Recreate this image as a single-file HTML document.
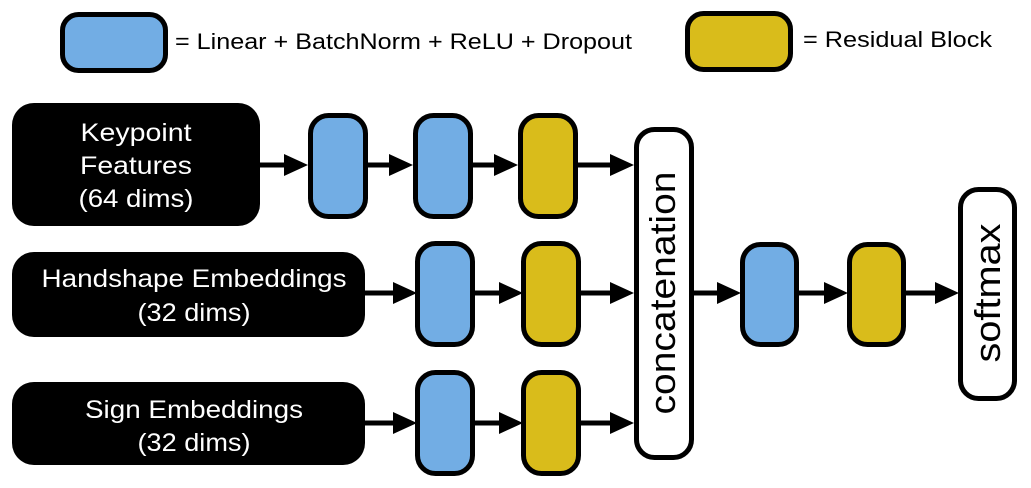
<!DOCTYPE html>
<html><head><meta charset="utf-8"><style>
html,body{margin:0;padding:0;background:#fff;}
svg{display:block;font-family:"Liberation Sans",Arial,sans-serif;}
</style></head><body>
<svg width="1031" height="488" viewBox="0 0 1031 488" xmlns="http://www.w3.org/2000/svg">
<g stroke="#000" stroke-width="5">
<rect x="62.5" y="14.5" width="103" height="56" rx="16" fill="#72ade4"/>
<rect x="687.5" y="13.5" width="103" height="56" rx="16" fill="#d9bc1b"/>
<rect x="310.5" y="115.5" width="55" height="101" rx="18" fill="#72ade4"/>
<rect x="415.5" y="115.5" width="55" height="101" rx="18" fill="#72ade4"/>
<rect x="520.5" y="115.5" width="55" height="101" rx="18" fill="#d9bc1b"/>
<rect x="417.5" y="243.5" width="55" height="101" rx="18" fill="#72ade4"/>
<rect x="523.5" y="243.5" width="55" height="101" rx="18" fill="#d9bc1b"/>
<rect x="417.5" y="372.5" width="55" height="101" rx="18" fill="#72ade4"/>
<rect x="523.5" y="372.5" width="55" height="101" rx="18" fill="#d9bc1b"/>
<rect x="636.5" y="129.5" width="55" height="328" rx="18" fill="#fff"/>
<rect x="742.5" y="244.5" width="54" height="100" rx="18" fill="#72ade4"/>
<rect x="849.5" y="244.5" width="54" height="100" rx="18" fill="#d9bc1b"/>
<rect x="960.5" y="189.5" width="54" height="209" rx="18" fill="#fff"/>
</g>
<rect x="12" y="103" width="248" height="123" rx="22" fill="#000"/>
<rect x="12" y="252" width="353" height="85" rx="22" fill="#000"/>
<rect x="12" y="382" width="353" height="83" rx="22" fill="#000"/>
<g stroke="#000" stroke-width="5">
<line x1="258" y1="165" x2="288" y2="165"/>
<line x1="366" y1="165" x2="393" y2="165"/>
<line x1="471" y1="165" x2="498" y2="165"/>
<line x1="576" y1="165" x2="613" y2="165"/>
<line x1="363" y1="293" x2="395" y2="293"/>
<line x1="473" y1="293" x2="501" y2="293"/>
<line x1="579" y1="293" x2="613" y2="293"/>
<line x1="363" y1="423" x2="395" y2="423"/>
<line x1="473" y1="423" x2="501" y2="423"/>
<line x1="579" y1="423" x2="613" y2="423"/>
<line x1="692" y1="293" x2="720" y2="293"/>
<line x1="797" y1="293" x2="827" y2="293"/>
<line x1="904" y1="293" x2="938" y2="293"/>
</g>
<g fill="#000">
<polygon points="284,154 308,165 284,176"/>
<polygon points="389,154 413,165 389,176"/>
<polygon points="494,154 518,165 494,176"/>
<polygon points="610,154 634,165 610,176"/>
<polygon points="393,282 417,293 393,304"/>
<polygon points="499,282 523,293 499,304"/>
<polygon points="610,282 634,293 610,304"/>
<polygon points="393,412 417,423 393,434"/>
<polygon points="499,412 523,423 499,434"/>
<polygon points="610,412 634,423 610,434"/>
<polygon points="717,282 741,293 717,304"/>
<polygon points="824,282 848,293 824,304"/>
<polygon points="935,282 959,293 935,304"/>
</g>
<g fill="#000" font-size="22">
<text x="175" y="49" textLength="457" lengthAdjust="spacingAndGlyphs">= Linear + BatchNorm + ReLU + Dropout</text>
<text x="803" y="47" textLength="189" lengthAdjust="spacingAndGlyphs">= Residual Block</text>
</g>
<g fill="#fff" font-size="25" text-anchor="middle">
<text x="136" y="141" textLength="111" lengthAdjust="spacingAndGlyphs">Keypoint</text>
<text x="136" y="174" textLength="112" lengthAdjust="spacingAndGlyphs">Features</text>
<text x="136" y="207" textLength="115" lengthAdjust="spacingAndGlyphs">(64 dims)</text>
<text x="194" y="287" textLength="305" lengthAdjust="spacingAndGlyphs">Handshape Embeddings</text>
<text x="194" y="321" textLength="113" lengthAdjust="spacingAndGlyphs">(32 dims)</text>
<text x="194" y="418" textLength="218" lengthAdjust="spacingAndGlyphs">Sign Embeddings</text>
<text x="194" y="451" textLength="113" lengthAdjust="spacingAndGlyphs">(32 dims)</text>
</g>
<g fill="#000" font-size="36" text-anchor="middle">
<text transform="translate(675,293) rotate(-90)" textLength="243" lengthAdjust="spacingAndGlyphs">concatenation</text>
<text transform="translate(1000,293) rotate(-90)" textLength="139" lengthAdjust="spacingAndGlyphs">softmax</text>
</g>
</svg>
</body></html>
